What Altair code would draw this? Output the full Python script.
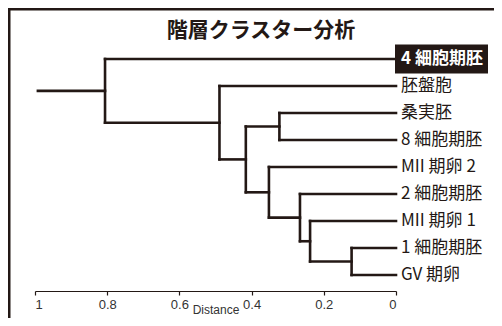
import altair as alt
import pandas as pd

# ---- data ----
leaf_labels = ["4 細胞期胚", "胚盤胞", "桑実胚", "8 細胞期胚", "MII 期卵 2",
               "2 細胞期胚", "MII 期卵 1", "1 細胞期胚", "GV 期卵"]
# linkage: node 9 + k joins merge_left[k] and merge_right[k] at merge_dist[k]
merge_left = [7, 6, 5, 4, 2, 13, 1, 0]
merge_right = [8, 9, 10, 11, 3, 12, 14, 15]
merge_dist = [0.123, 0.238, 0.266, 0.352, 0.323, 0.416, 0.489, 0.806]
root_start = 0.992
highlight_label = "4 細胞期胚"
x_ticks = [1, 0.8, 0.6, 0.4, 0.2, 0]
title_text = ["階層クラスター分析"]

INK = "#231815"

# ---- build dendrogram segments ----
pos = {i: float(i) for i in range(len(leaf_labels))}
dist = {i: 0.0 for i in range(len(leaf_labels))}
segs = []
n = len(leaf_labels)
for k, (l, r, d) in enumerate(zip(merge_left, merge_right, merge_dist)):
    node = n + k
    segs.append({"x1": d, "x2": d, "y1": pos[l], "y2": pos[r]})
    segs.append({"x1": dist[l], "x2": d, "y1": pos[l], "y2": pos[l]})
    segs.append({"x1": dist[r], "x2": d, "y1": pos[r], "y2": pos[r]})
    pos[node] = (pos[l] + pos[r]) / 2
    dist[node] = d
root = n + len(merge_dist) - 1
segs.append({"x1": dist[root], "x2": root_start, "y1": pos[root], "y2": pos[root]})
seg_df = pd.DataFrame(segs)

leaf_df = pd.DataFrame({"label": leaf_labels, "pos": list(range(n)), "d": [0.0] * n})

xs = alt.Scale(domain=[1, 0], range=[27, 388], nice=False, zero=False)
ys = alt.Scale(domain=[0, n - 1], range=[51, 267], nice=False, zero=False)

x_axis = alt.Axis(values=x_ticks, format="~g", title="Distance", grid=False,
                  domainColor=INK, domainWidth=1.2, tickColor=INK, tickWidth=1.2,
                  tickSize=4, labelColor="#333333", labelFontSize=13,
                  labelFont="Liberation Sans", labelPadding=3,
                  titleFont="Liberation Sans", titleFontSize=12,
                  titleFontWeight="normal", titleColor="#333333",
                  titleBaseline="alphabetic", titleY=22)

lines = alt.Chart(seg_df).mark_rule(color=INK, strokeWidth=2.6, strokeCap="square").encode(
    x=alt.X("x1:Q", scale=xs, axis=x_axis),
    x2="x2:Q",
    y=alt.Y("y1:Q", scale=ys, axis=None),
    y2="y2:Q",
)

box = alt.Chart(leaf_df).transform_filter(
    alt.datum.label == highlight_label
).mark_rect(color=INK, height=29).encode(
    x=alt.value(387), x2=alt.value(480),
    y=alt.Y("pos:Q", scale=ys),
)

labels = alt.Chart(leaf_df).transform_filter(
    alt.datum.label != highlight_label
).mark_text(
    align="left", baseline="middle", dx=5, fontSize=17, font="Noto Sans CJK JP", color=INK
).encode(
    x=alt.X("d:Q", scale=xs),
    y=alt.Y("pos:Q", scale=ys),
    text="label:N",
)

hl_label = alt.Chart(leaf_df).transform_filter(
    alt.datum.label == highlight_label
).mark_text(
    align="left", baseline="middle", dx=5, fontSize=17, font="Noto Sans CJK JP",
    fontWeight="bold", color="white"
).encode(
    x=alt.X("d:Q", scale=xs),
    y=alt.Y("pos:Q", scale=ys),
    text="label:N",
)

title = alt.Chart(pd.DataFrame({"t": title_text})).mark_text(
    fontSize=21, fontWeight="bold", font="Noto Sans CJK JP", color=INK,
    align="center", baseline="middle"
).encode(x=alt.value(253), y=alt.value(23), text="t:N")

frame_left = alt.Chart(pd.DataFrame({"a": [0]})).mark_rule(color=INK, strokeWidth=3).encode(
    x=alt.value(1), y=alt.value(0), y2=alt.value(310))
frame_top = alt.Chart(pd.DataFrame({"a": [0]})).mark_rule(color=INK, strokeWidth=3).encode(
    x=alt.value(0), x2=alt.value(486), y=alt.value(1))

chart = alt.layer(frame_left, frame_top, lines, box, labels, hl_label, title).properties(
    width=486, height=283,
    autosize=alt.AutoSizeParams(type="none"),
    padding={"left": 0, "top": 0, "right": 0, "bottom": 27},
).configure_view(stroke=None)

chart.save("out.html", embed_options={"renderer": "svg", "actions": False})
